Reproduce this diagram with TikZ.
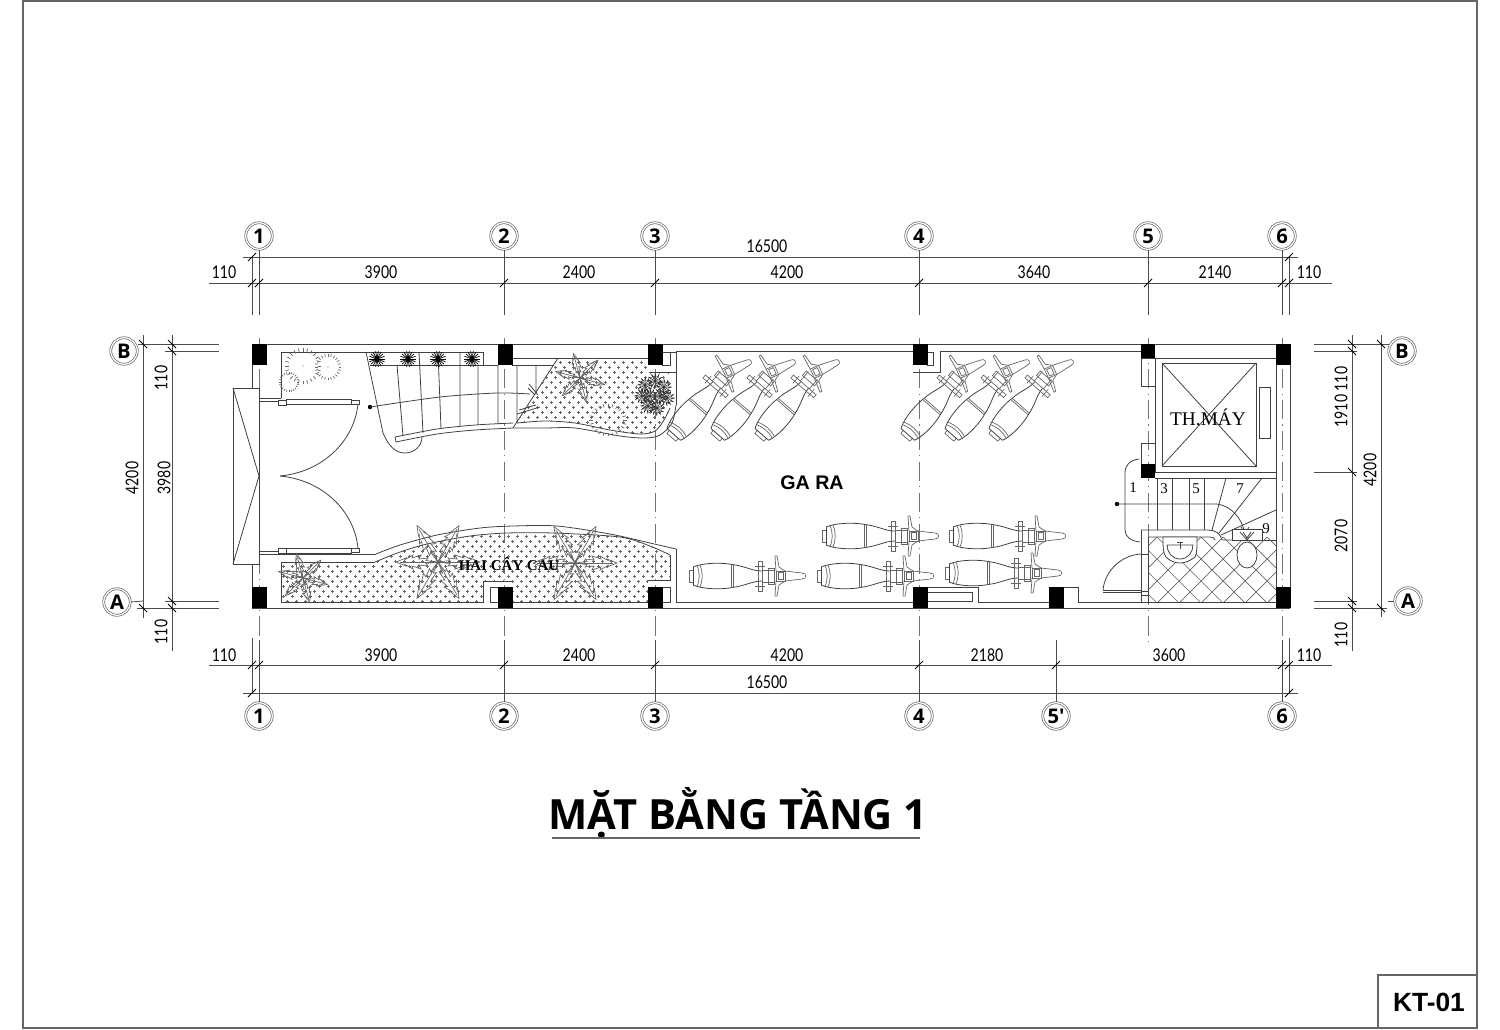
\documentclass[tikz,border=0pt]{standalone}
\usepackage{fontspec}
\setmainfont{Liberation Serif}
\newfontfamily\dimfont[FakeStretch=.8]{Lato}
\newfontfamily\titlefont{Open Sans}
\newfontfamily\tagfont{Liberation Sans}
\tikzset{
	planline/.style={draw=black!75,line width=.45pt},
	paleline/.style={draw=black!60,line width=.4pt},
	dimline/.style={draw=black!70,line width=.45pt},
	axisline/.style={draw=black!55,line width=.4pt,dash pattern=on 11pt off 3pt on .6pt off 3pt},
	tickline/.style={draw=black,line width=.5pt},
	column/.style={fill=black},
	bubble/.style={circle,draw=black!60,double=white,double distance=.7pt,line width=.4pt,minimum size=.53cm,inner sep=0pt,font=\titlefont\bfseries\fontsize{11.5}{13}\selectfont},
	dimlabel/.style={font=\dimfont\fontsize{10}{11}\selectfont,inner sep=0pt},
	steplabel/.style={font=\fontsize{8.5}{10}\selectfont,inner sep=0pt},
	motorear/.pic={
		\draw[paleline] (-91,-6) -- (-87,-6) (-91,6) -- (-87,6) (-91,-6) -- (-91,6);
		\draw[planline] (-87,-9) .. controls (-77,-13.5) and (-57,-13.5) .. (-48,-11.5) .. controls (-35,-10) and (-28,-5) .. (-18,-5);
		\draw[planline] (-87,9) .. controls (-77,13.5) and (-57,13.5) .. (-48,11.5) .. controls (-35,10) and (-28,5) .. (-18,5);
		\draw[planline] (-87,-9) -- (-87,9);
		\draw[paleline] (-49,-11.5) -- (-49,11.5) (-47,-11.5) -- (-47,11.5);
		\draw[paleline] (-83,-10.5) .. controls (-80,-3) and (-80,3) .. (-83,10.5) (-80,-11) .. controls (-77,-3) and (-77,3) .. (-80,11);
		\draw[paleline] (-22,-15) rectangle (-18,15);
		\draw[paleline] (-25,-10) -- (-15,-10) (-25,10) -- (-15,10);
		\draw[paleline] (-18,-6) -- (-5,-6) (-18,6) -- (-5,6) (-12,-8) rectangle (-6,8);
	},
	motofront/.pic={
		\draw[paleline] (-4,-5) rectangle (5,5) (-2,-3.5) rectangle (3,3.5);
		\draw[paleline] (-5,-20) -- (-3,-20) -- (-1,-9) -- (5,-5) (-5,20) -- (-3,20) -- (-1,9) -- (5,5);
		\draw[paleline] (-5,-20) -- (-4,-5) (-5,20) -- (-4,5);
		\draw[paleline] (5,-5) -- (22,-3) .. controls (27,-3) and (27,3) .. (22,3) -- (5,5);
	},
	palm/.pic={
		\foreach \a in {0,60,120,180,240,300}{
			\draw[paleline,rotate=\a] (0,0) -- (12,-1.5) -- (10,-4) -- (19,-3) -- (17,-7) -- (26,-4) -- (25,-7) -- (33,-2.5) -- (32,-4) -- (42,0) -- (32,4) -- (33,2.5) -- (25,7) -- (26,4) -- (17,7) -- (19,3) -- (10,4) -- (12,1.5) -- cycle;
			\draw[paleline,rotate=\a] (0,0) -- (38,0);
		}
	},
	spike/.pic={
		\foreach \a in {0,20,...,340}
			\draw[draw=black,line width=.4pt] (0,0) -- (\a:8);
		\fill[black] (0,0) circle (2.5);
	},
	bush/.pic={
		\foreach \a in {0,30,...,330}
			\draw[draw=black!80,line width=.3pt] (0,0) -- (\a:7) (\a:7) -- (\a+15:4);
	},
	tickring/.pic={
		\foreach \a in {0,15,...,345}
			\draw[paleline] (\a:10) -- (\a:12.5);
		\fill[black!60] (0,0) circle (.5);
	},
}
\begin{document}
\begin{tikzpicture}[x=0.02cm,y=-0.02cm]
	\useasboundingbox (0,0) rectangle (1500,1029);

	\draw[paleline,line width=.6pt] (23,1) -- (1477,1) -- (1477,1028) -- (23,1028) -- cycle;
	\draw[paleline,line width=.6pt] (1378,1028) -- (1378,975) -- (1477,975);
	\node[font=\tagfont\bfseries\fontsize{15}{17}\selectfont,inner sep=0pt] (sheet) at (1429,1002) {KT-01};
	\node[font=\titlefont\bfseries\fontsize{23.7}{28}\selectfont,inner sep=0pt] (title) at (738,813) {MẶT BẰNG TẦNG 1};
	\draw[paleline,line width=.6pt] (552,838) -- (920,838);

	\foreach \n/\x in {1/259,2/504,3/655,4/919,5/1148,6/1282}
		\node[bubble] (top\n) at (\x,236) {\n};
	\foreach \n/\x/\t in {1/259/1,2/504/2,3/655/3,4/919/4,7/1056/5',6/1282/6}
		\node[bubble] (bot\n) at (\x,716) {\t};
	\node[bubble] (leftB) at (124,351) {B};
	\node[bubble] (leftA) at (117,602) {A};
	\node[bubble] (rightB) at (1402,351) {B};
	\node[bubble] (rightA) at (1408,601) {A};

	\foreach \n/\x in {1/259,2/504,3/655,4/919,6/1282}{
		\draw[dimline] (top\n) -- (\x,315);
		\draw[axisline] (\x,338) -- (\x,640);
		\draw[dimline] (\x,640) -- (bot\n);
	}
	\draw[dimline] (top5) -- (1148,315);
	\draw[axisline] (1148,338) -- (1148,645);
	\draw[dimline] (1056,640) -- (bot7);

	\draw[dimline] (252,257) -- (252,315) (1289,257) -- (1289,315);
	\draw[dimline] (252,638) -- (252,693) (1289,638) -- (1289,693);
	\draw[dimline] (243,257) -- (1298,257);
	\draw[dimline] (209,283) -- (1332,283);
	\draw[dimline] (209,665) -- (1332,665);
	\draw[dimline] (243,693) -- (1298,693);
	\foreach \x in {252,259,504,655,919,1148,1282,1289}
		\draw[tickline] (\x-4,287) -- (\x+4,279);
	\foreach \x in {252,259,504,655,919,1056,1282,1289}
		\draw[tickline] (\x-4,669) -- (\x+4,661);
	\foreach \x in {252,1289}{
		\draw[tickline] (\x-4,261) -- (\x+4,253);
		\draw[tickline] (\x-4,697) -- (\x+4,689);
	}
	\draw[dimline] (143,335) -- (143,618);
	\draw[dimline] (172,335) -- (172,651);
	\draw[dimline] (1352,335) -- (1352,651);
	\draw[dimline] (1381,335) -- (1381,617);
	\draw[dimline] (leftB.east |- 0,344) -- (219,344);
	\draw[dimline] (165,351) -- (219,351);
	\draw[dimline] (165,601) -- (219,601);
	\draw[dimline] (leftA.east) -- (143,601);
	\draw[dimline] (137,608) -- (219,608);
	\draw[dimline] (1314,344) -- (1389,344);
	\draw[dimline] (1314,351) -- (1357,351);
	\draw[dimline] (1314,472) -- (1357,472);
	\draw[dimline] (1314,601) -- (1357,601);
	\draw[dimline] (1314,608) -- (1387,608);
	\draw[dimline] (1388,601) -- (rightA.west);
	\foreach \x/\y in {143/344,143/608,172/344,172/351,172/601,172/608,1352/344,1352/351,1352/472,1352/601,1352/608,1381/344,1381/608}
		\draw[tickline] (\x-4,\y-4) -- (\x+4,\y+4);

	\foreach \x/\t in {224/110,381/3900,579/2400,787/4200,1034/3640,1215/2140,1309/110}
		\node[dimlabel] (dimtop\x) at (\x,272) {\t};
	\foreach \x/\t in {224/110,381/3900,579/2400,787/4200,987/2180,1169/3600,1309/110}
		\node[dimlabel] (dimbot\x) at (\x,655) {\t};
	\node[dimlabel] (allTop) at (767,246) {16500};
	\node[dimlabel] (allBot) at (767,682) {16500};
	\node[dimlabel,rotate=90] (leftT) at (161,378) {110};
	\node[dimlabel,rotate=90] (leftM) at (164,478) {3980};
	\node[dimlabel,rotate=90] (leftO) at (132,478) {4200};
	\node[dimlabel,rotate=90] (leftD) at (161,632) {110};
	\node[dimlabel,rotate=90] (rightT) at (1341,397) {1910 110};
	\node[dimlabel,rotate=90] (rightM) at (1341,536) {2070};
	\node[dimlabel,rotate=90] (rightO) at (1370,470) {4200};
	\node[dimlabel,rotate=90] (rightD) at (1341,635) {110};

	\begin{scope}
		\clip (281,602) -- (281,562) -- (375,562) -- plot[smooth] coordinates {(375,562) (400,552) (427,544) (470,536) (507,533) (553,533) (620,537) (650,546) (670,555)} -- (670,580) -- (648,580) -- (648,602) -- (512,602) -- (512,581) -- (483,581) -- (483,602) -- cycle;
		\draw[paleline] \foreach \x in {283,292,...,670}{\foreach \y in {526,536,...,606}{(\x-1.5,\y) -- (\x+1.5,\y) (\x,\y-1.5) -- (\x,\y+1.5)}};
		\draw[paleline] \foreach \x in {287.5,296.5,...,670}{\foreach \y in {531,541,...,601}{(\x-1.5,\y) -- (\x+1.5,\y) (\x,\y-1.5) -- (\x,\y+1.5)}};
	\end{scope}
	\begin{scope}
		\clip (558,358) -- (648,358) -- (648,372) -- (670,372) -- (670,408) -- plot[smooth] coordinates {(670,408) (664,420) (655,431) (640,434) (610,430) (575,423) (545,421) (517,423)} -- cycle;
		\draw[paleline] \foreach \x in {515,524,...,675}{\foreach \y in {362,372,...,442}{(\x-1.5,\y) -- (\x+1.5,\y) (\x,\y-1.5) -- (\x,\y+1.5)}};
		\draw[paleline] \foreach \x in {519.5,528.5,...,675}{\foreach \y in {367,377,...,437}{(\x-1.5,\y) -- (\x+1.5,\y) (\x,\y-1.5) -- (\x,\y+1.5)}};
	\end{scope}

	\draw[planline] (252,344) -- (1290,344);
	\draw[planline] (252,608) -- (1290,608);
	\draw[planline] (252,344) -- (252,388) (252,564) -- (252,608);
	\draw[planline] (1276,358) -- (1276,587) (1290,344) -- (1290,608);
	\draw[planline] (233,388) rectangle (259,564);
	\draw[planline] (233,388) -- (259,476) -- (233,564);
	\draw[planline] (281,398) -- (281,352) -- (483,352) -- (483,365);
	\draw[planline] (259,398) -- (281,398) (259,401) -- (278,401);
	\draw[planline] (278,400) rectangle (286,405) (286,399) rectangle (351,404) (351,400) rectangle (359,404);
	\draw[planline] (278,548) rectangle (286,553) (286,548) rectangle (351,553) (351,548) rectangle (359,552);
	\draw[planline] (358,404) .. controls (354,442) and (322,472) .. (280,476);
	\draw[planline] (280,476) .. controls (322,480) and (354,510) .. (358,548);
	\draw[planline] (259,551) -- (278,551) (259,554) -- (376,554);
	\draw[planline] (281,562) -- (375,562);
	\draw[planline] plot[smooth] coordinates {(376,554) (400,545) (437,535) (480,528) (513,526) (557,526) (610,534) (650,543) (676,549)};
	\draw[planline] plot[smooth] coordinates {(375,562) (400,552) (427,544) (470,536) (507,533) (553,533) (620,537) (650,546) (670,555)};
	\draw[planline] (281,562) -- (281,602) -- (483,602) -- (483,581) -- (512,581);
	\draw[planline] (490,587) rectangle (498,602);
	\draw[planline] (512,602) -- (648,602) (648,580) -- (670,580) -- (670,555);
	\draw[planline] (662,587) rectangle (670,602);
	\draw[planline] (676,549) -- (676,602) -- (913,602);

	\draw[planline] (366,352) -- (383,433) .. controls (388,445) and (395,453) .. (405,453) .. controls (414,453) and (422,446) .. (422,437);
	\draw[planline] (370,365) -- (498,365) (512,365) -- (553,365) (512,358) -- (648,358);
	\draw[planline] plot[smooth] coordinates {(395,437) (437,429) (475,425) (513,423)};
	\draw[planline] plot[smooth] coordinates {(396,442) (437,434) (475,430) (513,428)};
	\draw[planline] (395,437) -- (396,442);
	\draw[planline] (397,365) -- (403,436) (419,352) -- (423,433) (438,352) -- (441,429) (460,352) -- (460,426) (478,365) -- (478,425) (498,365) -- (498,424) (517,365) -- (517,423) (536,365) -- (536,393);
	\draw[planline] (558,358) -- (513,428);
	\fill[black] (370,407) circle (2.2);
	\draw[planline] plot[smooth] coordinates {(370,407) (440,397) (497,393) (530,394)};
	\draw[planline] (528,388) -- (535,395) (529,384) -- (538,395) (519,410) -- (536,405) (517,414) -- (540,407);
	\draw[planline] plot[smooth] coordinates {(517,423) (545,421) (575,423) (610,430) (640,434) (655,431) (664,420) (670,408)};
	\draw[planline] plot[smooth] coordinates {(513,428) (545,428) (575,428) (620,436) (645,438) (660,435) (672,423) (676,405)};
	\draw[planline] (650,372) -- (676,372) -- (676,405);
	\draw[planline] (662,352) -- (676,352) -- (676,372) (670,352) -- (670,365) -- (662,365);
	\draw[planline] (676,351) -- (913,351);
	\draw[planline] (927,352) -- (933,352) -- (933,365) -- (927,365);
	\draw[planline] (913,372) -- (940,372) -- (940,351) -- (1141,351);

	\foreach \x in {377,408,438,472}
		\pic at (\x,359) {spike};
	\pic[scale=1.45] at (303,366) {tickring};
	\pic[scale=1.05] at (328,367) {tickring};
	\pic[scale=.8] at (289,382) {tickring};
	\pic[xscale=1.5,yscale=1.3] at (608,420) {tickring};
	\pic at (438,562) {palm};
	\pic at (575,563) {palm};
	\pic[scale=.6,rotate=-15] at (303,578) {palm};
	\pic[scale=.6,rotate=-15] at (580,378) {palm};
	\foreach \x/\y in {645/385,655/381,664/387,650/396,660/396,648/406,657/408,667/398,642/396}
		\pic[scale=1.1] at (\x,\y) {bush};
	\node[font=\bfseries\fontsize{8.5}{10}\selectfont,inner sep=0pt] (treelabel) at (509,564) {HAI CÂY CAU};
	\node[font=\tagfont\bfseries\fontsize{11.2}{14}\selectfont,inner sep=0pt] (garage) at (812,483) {GA RA};

	\foreach \x/\y in {728/372,772/372,816/372,962/372,1006/372,1050/372}{
		\pic[rotate=49,xscale=.95] at (\x,\y) {motorear};
		\pic[rotate=25] at (\x,\y) {motofront};
	}
	\foreach \x/\y in {780/576,908/576,1036/573,913/536,1040/536}{
		\pic at (\x,\y) {motorear};
		\pic at (\x,\y) {motofront};
	}

	\draw[planline] (1141,358) rectangle (1155,386) (1141,443) rectangle (1155,464);
	\draw[planline] (1155,358) rectangle (1276,472);
	\draw[planline] (1162,363) rectangle (1256,466);
	\draw[planline] (1162,363) -- (1256,466) (1256,363) -- (1162,466);
	\draw[planline] (1259,387) rectangle (1270,438);
	\node[font=\fontsize{11}{14}\selectfont,inner sep=0pt] (lift) at (1208,417) {TH.MÁY};

	\draw[planline] (1155,478) -- (1276,478);
	\draw[planline] (1157,478) -- (1157,530) (1172,478) -- (1172,530) (1189,478) -- (1189,530) (1204,478) -- (1204,530);
	\draw[planline] (1226,478) -- (1212,530) (1262,478) -- (1219,533) (1276,510) -- (1221,535);
	\draw[planline] (1141,530) -- (1208,530) .. controls (1215,530) and (1220,533) .. (1222,540) -- (1232,540);
	\draw[planline] (1148,537) -- (1210,537) .. controls (1213,537) and (1215,538) .. (1215,540);
	\draw[planline] (1258,540) -- (1276,540);
	\fill[black] (1117,504) circle (2.2);
	\draw[planline] (1117,504) -- (1217,504) .. controls (1232,506) and (1244,520) .. (1245,537);
	\draw[planline] (1238,529) -- (1245,537) -- (1252,529) (1241,527) -- (1245,534) -- (1249,527);
	\draw[planline] (1139,459) .. controls (1130,460) and (1125,465) .. (1125,473) -- (1125,530) .. controls (1125,537) and (1131,541) .. (1140,542);
	\node[steplabel] (step1) at (1133,488) {1};
	\node[steplabel] (step3) at (1164,489) {3};
	\node[steplabel] (step5) at (1196,489) {5};
	\node[steplabel] (step7) at (1240,489) {7};
	\node[steplabel] (step9) at (1266,529) {9};

	\begin{scope}
		\clip (1148,537) rectangle (1276,602);
		\foreach \c in {1040,1062,...,1380}{
			\draw[paleline] (\c,530) -- (\c+80,610);
			\draw[paleline] (\c,610) -- (\c+80,530);
		}
	\end{scope}
	\draw[planline] (1141,530) -- (1141,602) (1148,537) -- (1148,602);
	\draw[planline] (1141,554) -- (1148,554) (1141,591) -- (1148,591) (1141,595) -- (1148,595);
	\draw[planline] (1103,590) -- (1141,590) (1103,592) -- (1141,592);
	\draw[planline] (1103,590) .. controls (1105,570) and (1122,555) .. (1141,554);
	\draw[planline,fill=white] (1163,537) -- (1197,537) .. controls (1197,548) and (1197,553) .. (1195,557) .. controls (1190,561) and (1185,563) .. (1180,563) .. controls (1175,563) and (1170,561) .. (1166,557) .. controls (1163,553) and (1163,548) .. (1163,537) -- cycle;
	\draw[planline] (1167,545) -- (1193,545) .. controls (1193,552) and (1188,559) .. (1180,559) .. controls (1172,559) and (1167,552) .. (1167,545);
	\draw[planline] (1177,542) -- (1183,542) (1180,542) -- (1180,549);
	\draw[planline,fill=white] (1232,529) rectangle (1262,540);
	\draw[planline,fill=white] (1247,555) ellipse (10 and 13);
	\draw[planline] (1240,532) -- (1247,540) -- (1254,532) (1243,532) -- (1247,538) -- (1251,532);

	\draw[planline] (978,587) -- (978,602) -- (1049,602);
	\draw[planline] (927,587) -- (978,587);
	\draw[planline] (927,592) -- (972,592) -- (972,601) -- (927,601);
	\draw[planline] (1063,587) -- (1078,587) -- (1078,602) -- (1276,602);

	\foreach \x/\y in {252/344,498/344,648/344,913/344,1276/344,252/587,498/587,648/587,913/587,1049/587,1276/587}
		\fill[column] (\x,\y) rectangle (\x+14.5,\y+21);
	\fill[column] (1141,344) rectangle (1155,358);
	\fill[column] (1141,464) rectangle (1155,478);
\end{tikzpicture}
\end{document}
